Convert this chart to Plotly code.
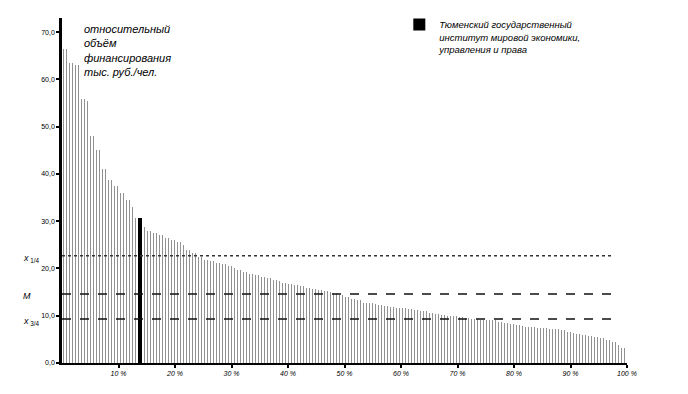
import plotly.graph_objects as go

# share of institutions (percent, bar centres) and relative funding values
values = [66.5, 63.5, 63.0, 55.8, 55.5, 48.0, 45.0, 41.0, 38.8, 37.5,
          36.0, 34.5, 33.0, 30.6, 28.8, 28.0, 27.6, 27.0, 26.5, 26.0,
          25.6, 25.0, 24.0, 23.2, 22.4, 21.8, 21.5, 21.2, 20.9, 20.6,
          20.2, 19.7, 19.2, 18.9, 18.6, 18.2, 17.9, 17.6, 17.3, 17.0,
          16.8, 16.5, 16.2, 15.9, 15.7, 15.5, 15.3, 15.1, 14.8, 14.4,
          14.0, 13.6, 13.3, 12.8, 12.6, 12.4, 12.2, 12.0, 11.9, 11.7,
          11.6, 11.4, 11.2, 11.0, 10.9, 10.6, 10.4, 10.2, 10.0, 9.9,
          9.7, 9.5, 9.4, 9.3, 9.2, 9.1, 9.0, 8.6, 8.4, 8.2,
          8.0, 7.8, 7.7, 7.6, 7.5, 7.4, 7.3, 7.1, 7.0, 6.6,
          6.4, 6.2, 6.0, 5.8, 5.5, 5.2, 4.8, 4.4, 3.8, 3.2]
positions = [i + 0.5 for i in range(len(values))]

highlight_pos = [13.8]
highlight_val = [30.6]
highlight_name = ("Тюменский государственный<br>институт мировой экономики,<br>"
                  "управления и права")

q1_value = 22.7
median_value = 14.6
q3_value = 9.3
ref_line_x = [0, 97.7]

x_tickvals = [10, 20, 30, 40, 50, 60, 70, 80, 90, 100]
x_ticktext = ["10 %", "20 %", "30 %", "40 %", "50 %", "60 %", "70 %", "80 %", "90 %", "100 %"]
y_tickvals = [0, 10, 20, 30, 40, 50, 60, 70]
y_ticktext = ["0,0", "10,0", "20,0", "30,0", "40,0", "50,0", "60,0", "70,0"]

font_family = "Liberation Sans, Arial, sans-serif"

fig = go.Figure()
fig.add_trace(go.Bar(
    x=positions, y=values, width=1.0, showlegend=False,
    marker=dict(color="white", line=dict(width=0),
                pattern=dict(shape="|", fgcolor="#858585", bgcolor="white",
                             size=3, solidity=0.3)),
))
fig.add_trace(go.Bar(
    x=highlight_pos, y=highlight_val, width=0.7, name=highlight_name,
    marker=dict(color="black", line=dict(width=0)), showlegend=True,
))
for val, dash, col in [(q1_value, "dot", "#333"), (median_value, "dash", "#111"),
                       (q3_value, "dash", "#111")]:
    fig.add_trace(go.Scatter(x=ref_line_x, y=[val, val], mode="lines",
                             line=dict(color=col, width=1.6, dash=dash),
                             showlegend=False, hoverinfo="skip"))

labels = [("<i>x</i><sub> 1/4</sub>", q1_value - 0.6), ("<i>M</i>", median_value - 0.4),
          ("<i>x</i><sub> 3/4</sub>", q3_value - 0.6)]
for txt, yv in labels:
    fig.add_annotation(x=-0.073, xref="paper", y=yv, yref="y", text=txt,
                       showarrow=False, xanchor="left", yanchor="middle",
                       font=dict(family=font_family, size=9, color="black"))

fig.add_annotation(x=0.036, xref="paper", y=0.99, yref="paper", yanchor="top", xanchor="left",
                   text="<i>относительный<br>объём<br>финансирования<br>тыс. руб./чел.</i>",
                   showarrow=False, align="left",
                   font=dict(family=font_family, size=11, color="black"))

fig.update_layout(
    template="none",
    width=688, height=394,
    margin=dict(l=54, r=69, t=10, b=39, autoexpand=False),
    paper_bgcolor="white", plot_bgcolor="white",
    barmode="overlay", bargap=0,
    font=dict(family=font_family, color="black"),
    legend=dict(x=0.597, y=1.018, xanchor="left", yanchor="top", valign="top",
                bgcolor="rgba(0,0,0,0)", itemwidth=30,
                font=dict(family=font_family, size=9.5, color="black", style="italic")),
    xaxis=dict(range=[0, 100], tickvals=x_tickvals, ticktext=x_ticktext,
               showgrid=False, zeroline=False, showline=True, linecolor="black",
               linewidth=2, ticks="outside", ticklen=3, tickwidth=1.5, tickcolor="black",
               tickfont=dict(size=7, style="italic", color="black")),
    yaxis=dict(range=[0, 73], tickvals=y_tickvals, ticktext=y_ticktext,
               showgrid=False, zeroline=False, showline=True, linecolor="black",
               linewidth=2.5, ticks="outside", ticklen=3, tickwidth=1.5, tickcolor="black",
               tickfont=dict(size=7, color="black")),
)

fig.write_html("out.html")
